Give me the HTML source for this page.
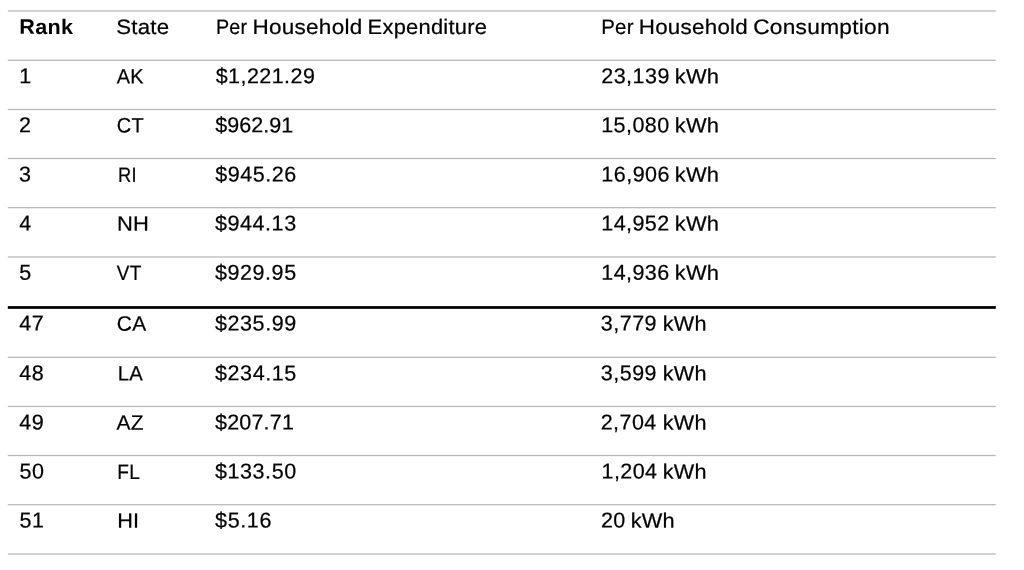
<!DOCTYPE html>
<html lang="en">
<head>
<meta charset="utf-8">
<title>Per household expenditure and consumption by state</title>
<style>
html,body{margin:0;padding:0;background:#fff;}
body{width:1024px;height:570px;position:relative;overflow:hidden;font-family:"Liberation Sans",sans-serif;color:#000;}
svg{position:absolute;left:0;top:0;}
table{position:absolute;left:0;top:0;width:0;height:0;border-collapse:collapse;border-spacing:0;font-weight:normal;}
th,td{padding:0;margin:0;border:0;font-weight:normal;width:0;height:0;line-height:0;}
.c{position:absolute;left:0;top:0;display:block;white-space:nowrap;line-height:30px;height:30px;transform-origin:0 0;-webkit-text-stroke:0.22px #000;}
.b{font-weight:bold;-webkit-text-stroke:0;}
</style>
</head>
<body>
<svg width="1024" height="570" viewBox="0 0 1024 570" aria-hidden="true">
<rect x="7.8" y="10.30" width="988" height="1.3" fill="#b9b9b9"/>
<rect x="7.8" y="59.65" width="988" height="1.3" fill="#b9b9b9"/>
<rect x="7.8" y="108.85" width="988" height="1.3" fill="#b9b9b9"/>
<rect x="7.8" y="157.85" width="988" height="1.3" fill="#b9b9b9"/>
<rect x="7.8" y="207.00" width="988" height="1.3" fill="#b9b9b9"/>
<rect x="7.8" y="256.35" width="988" height="1.3" fill="#b9b9b9"/>
<rect x="7.8" y="306.10" width="988" height="2.75" fill="#000"/>
<rect x="7.8" y="356.70" width="988" height="1.3" fill="#b9b9b9"/>
<rect x="7.8" y="405.80" width="988" height="1.3" fill="#b9b9b9"/>
<rect x="7.8" y="454.85" width="988" height="1.3" fill="#b9b9b9"/>
<rect x="7.8" y="504.05" width="988" height="1.3" fill="#b9b9b9"/>
<rect x="7.8" y="553.35" width="988" height="1.3" fill="#b9b9b9"/>
</svg>
<table>
<thead>
<tr>
<th><span class="c b" style="transform:translate(19.37px,11.87px) rotate(0.03deg) scaleX(1.028);letter-spacing:0.25px;font-size:21.0px">Rank</span></th>
<th><span class="c" style="transform:translate(116.22px,11.91px) rotate(0.03deg) scaleX(1.063);letter-spacing:0.25px;font-size:20.9px">State</span></th>
<th><span class="c" style="transform:translate(215.96px,11.91px) rotate(0.03deg) scaleX(0.942);letter-spacing:0.25px;font-size:20.9px">Per</span> <span class="c" style="transform:translate(252.50px,11.91px) rotate(0.03deg) scaleX(1.077);letter-spacing:0.25px;font-size:20.9px">Household</span> <span class="c" style="transform:translate(367.59px,11.91px) rotate(0.03deg) scaleX(1.047);letter-spacing:0.25px;font-size:20.9px">Expenditure</span></th>
<th><span class="c" style="transform:translate(601.30px,11.91px) rotate(0.03deg) scaleX(0.975);letter-spacing:0.25px;font-size:20.9px">Per</span> <span class="c" style="transform:translate(638.77px,11.91px) rotate(0.03deg) scaleX(1.070);letter-spacing:0.25px;font-size:20.9px">Household</span> <span class="c" style="transform:translate(753.20px,11.91px) rotate(0.03deg) scaleX(1.086);letter-spacing:0.25px;font-size:20.9px">Consumption</span></th>
</tr>
</thead>
<tbody>
<tr>
<td><span class="c" style="transform:translate(19.25px,61.25px) rotate(0.03deg);letter-spacing:0.50px;font-size:21.5px">1</span></td>
<td><span class="c" style="transform:translate(116.86px,61.46px) rotate(0.03deg) scaleX(0.952);letter-spacing:0.25px;font-size:20.9px">AK</span></td>
<td><span class="c" style="transform:translate(215.65px,61.25px) rotate(0.03deg);letter-spacing:0.45px;font-size:21.5px">$1,221.29</span></td>
<td><span class="c" style="transform:translate(601.20px,61.25px) rotate(0.03deg);letter-spacing:0.49px;font-size:21.5px">23,139</span> <span class="c" style="transform:translate(674.69px,61.46px) rotate(0.03deg) scaleX(1.048);letter-spacing:0.25px;font-size:20.9px">kWh</span></td>
</tr>
<tr>
<td><span class="c" style="transform:translate(19.00px,110.35px) rotate(0.03deg);letter-spacing:0.50px;font-size:21.5px">2</span></td>
<td><span class="c" style="transform:translate(116.86px,110.56px) rotate(0.03deg) scaleX(0.956);letter-spacing:0.25px;font-size:20.9px">CT</span></td>
<td><span class="c" style="transform:translate(215.20px,110.35px) rotate(0.03deg);letter-spacing:0.07px;font-size:21.5px">$962.91</span></td>
<td><span class="c" style="transform:translate(601.24px,110.35px) rotate(0.03deg);letter-spacing:0.43px;font-size:21.5px">15,080</span> <span class="c" style="transform:translate(674.69px,110.56px) rotate(0.03deg) scaleX(1.048);letter-spacing:0.25px;font-size:20.9px">kWh</span></td>
</tr>
<tr>
<td><span class="c" style="transform:translate(19.00px,159.45px) rotate(0.03deg);letter-spacing:0.50px;font-size:21.5px">3</span></td>
<td><span class="c" style="transform:translate(118.02px,159.66px) rotate(0.03deg) scaleX(0.874);letter-spacing:0.25px;font-size:20.9px">RI</span></td>
<td><span class="c" style="transform:translate(215.20px,159.45px) rotate(0.03deg);letter-spacing:0.54px;font-size:21.5px">$945.26</span></td>
<td><span class="c" style="transform:translate(601.24px,159.45px) rotate(0.03deg);letter-spacing:0.51px;font-size:21.5px">16,906</span> <span class="c" style="transform:translate(674.69px,159.66px) rotate(0.03deg) scaleX(1.048);letter-spacing:0.25px;font-size:20.9px">kWh</span></td>
</tr>
<tr>
<td><span class="c" style="transform:translate(19.38px,208.55px) rotate(0.03deg);letter-spacing:0.50px;font-size:21.5px">4</span></td>
<td><span class="c" style="transform:translate(116.99px,208.76px) rotate(0.03deg) scaleX(1.051);letter-spacing:0.25px;font-size:20.9px">NH</span></td>
<td><span class="c" style="transform:translate(215.03px,208.55px) rotate(0.03deg);letter-spacing:0.56px;font-size:21.5px">$944.13</span></td>
<td><span class="c" style="transform:translate(601.24px,208.55px) rotate(0.03deg);letter-spacing:0.44px;font-size:21.5px">14,952</span> <span class="c" style="transform:translate(674.69px,208.76px) rotate(0.03deg) scaleX(1.048);letter-spacing:0.25px;font-size:20.9px">kWh</span></td>
</tr>
<tr>
<td><span class="c" style="transform:translate(19.34px,257.65px) rotate(0.03deg);letter-spacing:0.50px;font-size:21.5px">5</span></td>
<td><span class="c" style="transform:translate(116.88px,257.86px) rotate(0.03deg) scaleX(0.906);letter-spacing:0.25px;font-size:20.9px">VT</span></td>
<td><span class="c" style="transform:translate(215.03px,257.65px) rotate(0.03deg);letter-spacing:0.56px;font-size:21.5px">$929.95</span></td>
<td><span class="c" style="transform:translate(601.24px,257.65px) rotate(0.03deg);letter-spacing:0.44px;font-size:21.5px">14,936</span> <span class="c" style="transform:translate(674.69px,257.86px) rotate(0.03deg) scaleX(1.048);letter-spacing:0.25px;font-size:20.9px">kWh</span></td>
</tr>
<tr>
<td><span class="c" style="transform:translate(19.24px,308.45px) rotate(0.03deg);letter-spacing:0.50px;font-size:21.5px">47</span></td>
<td><span class="c" style="transform:translate(116.84px,308.66px) rotate(0.03deg) scaleX(1.001);letter-spacing:0.25px;font-size:20.9px">CA</span></td>
<td><span class="c" style="transform:translate(215.03px,308.45px) rotate(0.03deg);letter-spacing:0.57px;font-size:21.5px">$235.99</span></td>
<td><span class="c" style="transform:translate(600.86px,308.45px) rotate(0.03deg);letter-spacing:0.48px;font-size:21.5px">3,779</span> <span class="c" style="transform:translate(662.66px,308.66px) rotate(0.03deg) scaleX(1.035);letter-spacing:0.25px;font-size:20.9px">kWh</span></td>
</tr>
<tr>
<td><span class="c" style="transform:translate(19.36px,358.35px) rotate(0.03deg);letter-spacing:0.50px;font-size:21.5px">48</span></td>
<td><span class="c" style="transform:translate(117.74px,358.56px) rotate(0.03deg) scaleX(0.970);letter-spacing:0.25px;font-size:20.9px">LA</span></td>
<td><span class="c" style="transform:translate(215.03px,358.35px) rotate(0.03deg);letter-spacing:0.59px;font-size:21.5px">$234.15</span></td>
<td><span class="c" style="transform:translate(600.86px,358.35px) rotate(0.03deg);letter-spacing:0.48px;font-size:21.5px">3,599</span> <span class="c" style="transform:translate(662.66px,358.56px) rotate(0.03deg) scaleX(1.035);letter-spacing:0.25px;font-size:20.9px">kWh</span></td>
</tr>
<tr>
<td><span class="c" style="transform:translate(19.36px,407.45px) rotate(0.03deg);letter-spacing:0.50px;font-size:21.5px">49</span></td>
<td><span class="c" style="transform:translate(116.49px,407.66px) rotate(0.03deg) scaleX(1.002);letter-spacing:0.25px;font-size:20.9px">AZ</span></td>
<td><span class="c" style="transform:translate(215.03px,407.45px) rotate(0.03deg);letter-spacing:0.19px;font-size:21.5px">$207.71</span></td>
<td><span class="c" style="transform:translate(600.69px,407.45px) rotate(0.03deg);letter-spacing:0.45px;font-size:21.5px">2,704</span> <span class="c" style="transform:translate(662.66px,407.66px) rotate(0.03deg) scaleX(1.035);letter-spacing:0.25px;font-size:20.9px">kWh</span></td>
</tr>
<tr>
<td><span class="c" style="transform:translate(19.46px,456.50px) rotate(0.03deg);letter-spacing:0.50px;font-size:21.5px">50</span></td>
<td><span class="c" style="transform:translate(117.35px,456.71px) rotate(0.03deg) scaleX(0.916);letter-spacing:0.25px;font-size:20.9px">FL</span></td>
<td><span class="c" style="transform:translate(215.04px,456.50px) rotate(0.03deg);letter-spacing:0.56px;font-size:21.5px">$133.50</span></td>
<td><span class="c" style="transform:translate(601.48px,456.50px) rotate(0.03deg);letter-spacing:0.45px;font-size:21.5px">1,204</span> <span class="c" style="transform:translate(662.66px,456.71px) rotate(0.03deg) scaleX(1.035);letter-spacing:0.25px;font-size:20.9px">kWh</span></td>
</tr>
<tr>
<td><span class="c" style="transform:translate(19.59px,505.55px) rotate(0.03deg);letter-spacing:0.50px;font-size:21.5px">51</span></td>
<td><span class="c" style="transform:translate(117.16px,505.76px) rotate(0.03deg) scaleX(1.039);letter-spacing:0.25px;font-size:20.9px">HI</span></td>
<td><span class="c" style="transform:translate(215.05px,505.55px) rotate(0.03deg);letter-spacing:0.64px;font-size:21.5px">$5.16</span></td>
<td><span class="c" style="transform:translate(600.92px,505.55px) rotate(0.03deg);letter-spacing:0.50px;font-size:21.5px">20</span> <span class="c" style="transform:translate(630.69px,505.76px) rotate(0.03deg) scaleX(1.041);letter-spacing:0.25px;font-size:20.9px">kWh</span></td>
</tr>
</tbody>
</table>
</body>
</html>
